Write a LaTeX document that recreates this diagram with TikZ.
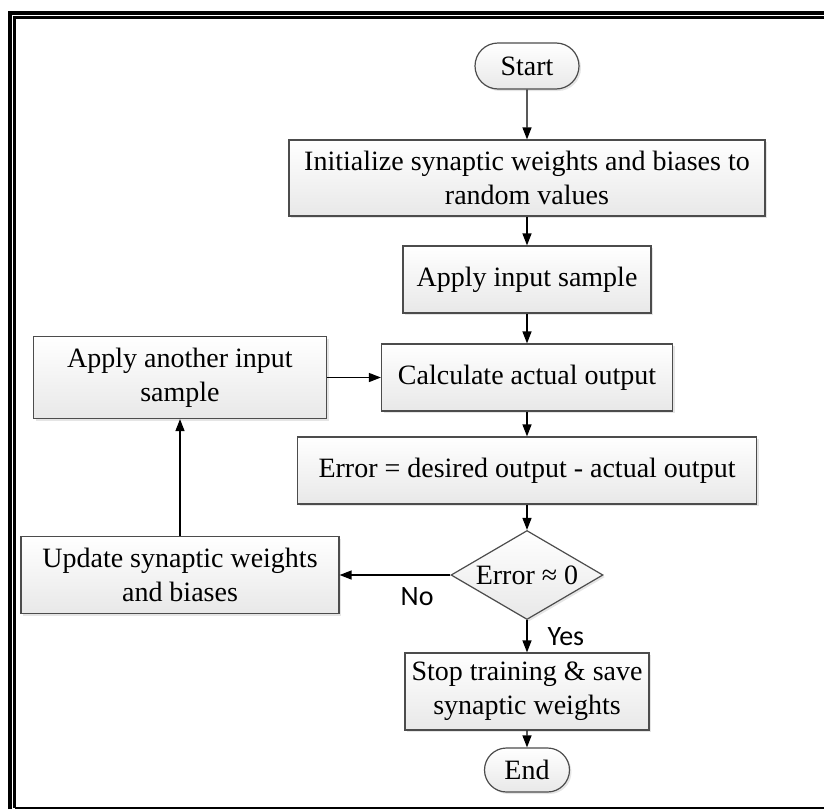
\documentclass[tikz,border=0pt]{standalone}
\usepackage{fontspec}
\setmainfont{Liberation Serif}
\newfontfamily\answerfont{Carlito}
\usetikzlibrary{positioning,arrows.meta,shapes.geometric,shapes.misc,shadows}

\begin{document}
\begin{tikzpicture}[x=0.5pt,y=-0.5pt,on grid,auto,
   >={Triangle[length=6pt,width=4.5pt]},
   every node/.style={font=\fontsize{14}{17}\selectfont},
   box/.style={draw=black!70,line width=0.6pt,top color=white,bottom color=black!9,
      drop shadow={shadow xshift=1pt,shadow yshift=-1pt,fill=black!20},align=center,inner sep=2pt},
   process/.style={box,rectangle},
   term/.style={box,rounded rectangle,minimum width=56pt,minimum height=23pt},
   decision/.style={box,diamond,aspect=1.7,minimum width=76pt,minimum height=44.5pt,inner sep=0pt},
   answer/.style={font=\answerfont\fontsize{14}{16}\selectfont,inner sep=1pt}]
   \useasboundingbox (0,0) rectangle (824,809);
   \draw[line width=2pt] (10,809) |- (824,13);
   \draw[line width=1.5pt] (14.5,807.7) |- (824,17.5);
   \draw[line width=1pt] (14.5,807.7) -- (824,807.7);

   \node[term] (start) at (527,66) {Start};
   \node[process,minimum width=238pt,minimum height=38pt] (init) [below=56pt of start] {Initialize synaptic weights and biases to\\random values};
   \node[process,minimum width=124pt,minimum height=33.5pt] (apply) [below=50.75pt of init] {Apply input sample};
   \node[process,minimum width=145.5pt,minimum height=33.5pt] (calc) [below=49pt of apply] {Calculate actual output};
   \node[process,minimum width=229.5pt,minimum height=33.5pt] (error) [below=46.5pt of calc] {Error = desired output - actual output};
   \node[decision] (check) [below=52.25pt of error] {Error ≈ 0};
   \node[process,minimum width=122pt,minimum height=38.5pt] (stop) [below=58.25pt of check] {Stop training \& save\\synaptic weights};
   \node[term,minimum width=46.5pt,minimum height=22pt] (end) [below=39.25pt of stop] {End};
   \node[process,minimum width=146.5pt,minimum height=41pt] (another) [left=173.5pt of calc] {Apply another input\\sample};
   \node[process,minimum width=159pt,minimum height=38.5pt] (update) [left=173.5pt of check] {Update synaptic weights\\and biases};

   \path[->,line width=0.65pt]
   (start) edge (init)
   (init) edge (apply)
   (apply) edge (calc)
   (calc) edge (error)
   (error) edge (check)
   (check) edge node[answer,right=9pt] {Yes} (stop)
   (check) edge node[answer,below=5pt,pos=0.3] {No} (update)
   (update) edge (another)
   (another) edge (calc)
   (stop) edge (end);
\end{tikzpicture}
\end{document}
